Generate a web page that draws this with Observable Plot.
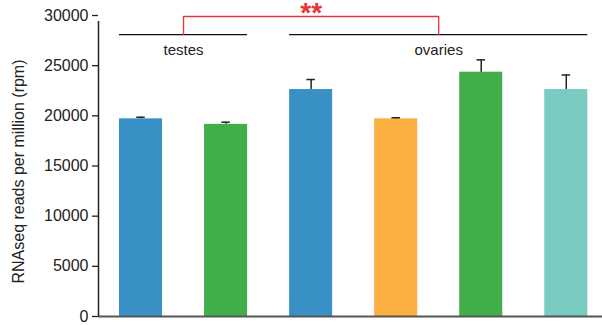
<!DOCTYPE html>
<html><head><meta charset="utf-8">
<script src="https://cdn.jsdelivr.net/npm/d3@7"></script>
<script src="https://cdn.jsdelivr.net/npm/@observablehq/plot@0.6"></script>
<style>body{margin:0;background:#fff} #chart{width:602px;height:325px}</style>
</head><body><div id="chart"></div>
<script>
const categories = ["testes 1", "testes 2", "ovaries 1", "ovaries 2", "ovaries 3", "ovaries 4"];
const groups = ["testes", "testes", "ovaries", "ovaries", "ovaries", "ovaries"];
const values = [19700, 19150, 22620, 19700, 24350, 22620];
const errors = [160, 220, 1000, 110, 1230, 1450];
const colors = ["#3890c4", "#41ae4a", "#3890c4", "#fbae42", "#41ae4a", "#7acbbf"];
const yTicks = [0, 5000, 10000, 15000, 20000, 25000, 30000];
const groupNames = ["testes", "ovaries"];
const bracketLevel = 28100;
const sigLevel = 29900;
const sigLabel = "**";
const yLabel = "RNAseq reads per million (rpm)";

const bars = categories.map((c, i) => ({c, i, v: values[i], e: errors[i], color: colors[i], g: groups[i]}));
const groupInfo = groupNames.map(name => {
  const idx = bars.filter(d => d.g === name).map(d => d.i);
  const first = d3.min(idx), last = d3.max(idx);
  return {name, first, last, mid: (first + last) / 2};
});
const sigPath = [
  {x: groupInfo[0].mid, y: bracketLevel},
  {x: groupInfo[0].mid, y: sigLevel},
  {x: groupInfo[1].mid, y: sigLevel},
  {x: groupInfo[1].mid, y: bracketLevel}
];
const sigMid = (groupInfo[0].mid + groupInfo[1].mid) / 2;
const half = 0.253, cap = 0.05;

const chart = Plot.plot({
  width: 602,
  height: 325,
  marginTop: 15,
  marginBottom: 9,
  marginLeft: 98,
  marginRight: 0,
  style: {fontFamily: "'Liberation Sans', Arial, sans-serif", fontSize: "16px", color: "#222", background: "#fff"},
  x: {type: "linear", domain: [-0.5, categories.length - 0.5], range: [98, 608.3], axis: null},
  y: {domain: [0, 30000], ticks: yTicks, label: null},
  marks: [
    Plot.rect(bars, {x1: d => d.i - half, x2: d => d.i + half, y1: 0, y2: "v", fill: "color"}),
    Plot.ruleX(bars, {x: "i", y1: "v", y2: d => d.v + d.e, stroke: "#222", strokeWidth: 1.5}),
    Plot.ruleY(bars, {y: d => d.v + d.e, x1: d => d.i - cap, x2: d => d.i + cap, stroke: "#222", strokeWidth: 1.5}),
    Plot.ruleY([0], {stroke: "#555", strokeWidth: 2}),
    Plot.ruleX([-0.5], {y1: 0, y2: 30000, insetBottom: -6, stroke: "#222", strokeWidth: 1.5}),
    Plot.axisY({ticks: yTicks, tickSize: 6, tickPadding: 4, fontSize: 16, tickFormat: d => String(d), label: null, stroke: "#222", strokeWidth: 1.3}),
    Plot.ruleY(groupInfo, {y: bracketLevel, x1: d => d.first - half, x2: d => d.last + half, stroke: "#111", strokeWidth: 1.2}),
    Plot.line(sigPath, {x: "x", y: "y", stroke: "#e8353a", strokeWidth: 1.3}),
    Plot.text(groupInfo, {x: "mid", y: bracketLevel, text: "name", dy: 20, lineAnchor: "bottom", fontSize: 15, fill: "#222"}),
    Plot.text([sigLabel], {x: sigMid, y: 30000, text: d => d, dy: 6, lineAnchor: "bottom", fontSize: 28, fontWeight: "bold", fill: "#e8353a"}),
    Plot.text([yLabel], {frameAnchor: "left", text: d => d, rotate: -90, textAnchor: "middle", lineAnchor: "middle", dx: -80, dy: 5.5, fontSize: 16, fill: "#222"})
  ]
});
document.getElementById("chart").appendChild(chart);
</script>
</body></html>
